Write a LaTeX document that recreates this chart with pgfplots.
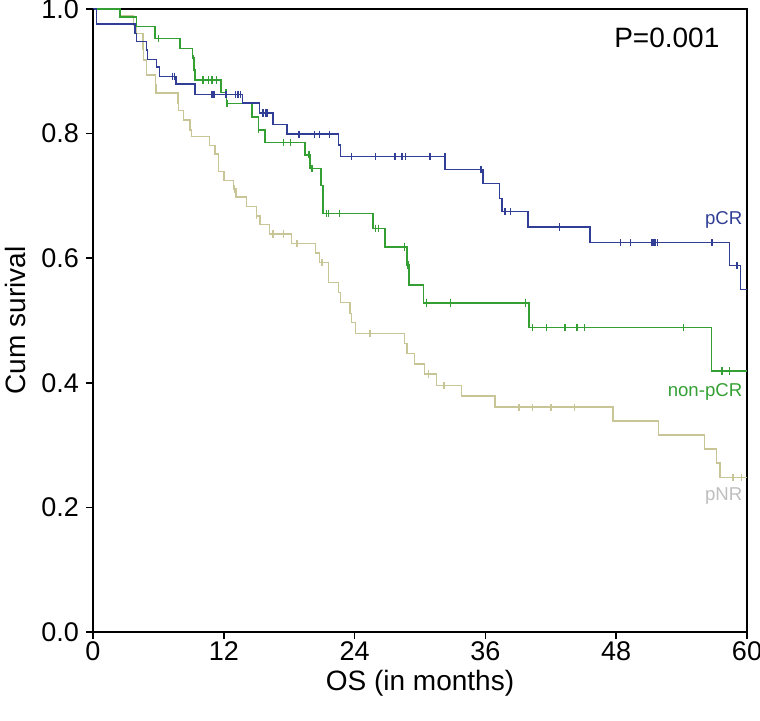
\documentclass[border=0pt]{standalone}
\usepackage{fontspec}
\setmainfont{Liberation Sans}
\usepackage{pgfplots}
\pgfplotsset{compat=1.18}

\definecolor{pcr}{RGB}{48,62,150}
\definecolor{npcr}{RGB}{52,160,52}
\definecolor{pnr}{RGB}{200,198,150}
\definecolor{pnrlab}{RGB}{190,190,190}

\begin{document}
\begin{tikzpicture}
\useasboundingbox (0,0) rectangle (380pt,360pt);
\begin{axis}[
  at={(46.5pt,44pt)}, anchor=south west,
  scale only axis, width=327pt, height=311.5pt,
  xmin=0, xmax=60, ymin=0, ymax=1,
  xtick={0,12,24,36,48,60},
  ytick={0,0.2,0.4,0.6,0.8,1.0},
  yticklabel style={/pgf/number format/.cd, fixed, fixed zerofill, precision=1},
  /pgf/number format/assume math mode=true,
  tick align=outside, xtick pos=bottom, ytick pos=left,
  major tick length=3.5pt,
  tick style={black, line width=0.8pt},
  axis line style={line width=0.7pt},
  ticklabel style={font=\fontsize{13.5}{16}\selectfont},
  xticklabel style={inner sep=1pt},
  label style={font=\fontsize{14}{16}\selectfont, inner sep=0pt},
  xlabel={OS (in months)},
  ylabel={Cum surival},
  xlabel style={at={(axis description cs:0.5,-0.083)}, anchor=center},
  ylabel style={at={(axis description cs:-0.119,0.5)}, anchor=center},
  every axis plot/.append style={line width=0.75pt},
  clip=false,
]
% step curves
\addplot[pnr, const plot, no marks] coordinates {
  (0,1.0) (2.5,0.989) (3.7,0.974) (4.0,0.961) (4.6,0.935) (4.65,0.918)
  (4.9,0.894) (5.75,0.878) (5.8,0.865) (7.8,0.849) (7.85,0.837) (8.3,0.822)
  (8.9,0.806) (9.05,0.795) (10.7,0.781) (11.2,0.767) (11.5,0.739) (12.0,0.725)
  (12.9,0.711) (13.1,0.698) (14.1,0.683) (15.0,0.668) (15.3,0.654) (16.2,0.639)
  (18.2,0.624) (20.4,0.608) (20.8,0.593) (21.6,0.561) (22.5,0.545) (22.7,0.529)
  (23.6,0.511) (23.7,0.497) (24.1,0.479) (28.6,0.463) (28.8,0.447) (29.5,0.430)
  (30.4,0.414) (31.5,0.396) (33.8,0.379) (36.9,0.361) (47.7,0.339) (51.9,0.316)
  (56.1,0.294) (57.2,0.271) (57.5,0.248) (60,0.248)
};
\addplot[npcr, const plot, no marks] coordinates {
  (0,1.0) (2.5,0.987) (4.0,0.972) (5.7,0.953) (8.0,0.937) (9.15,0.921)
  (9.25,0.902) (9.36,0.886) (11.75,0.866) (12.25,0.848) (14.6,0.827) (15.2,0.806)
  (15.8,0.786) (19.45,0.766) (19.9,0.744) (20.9,0.717) (21.1,0.672) (25.7,0.648)
  (26.8,0.618) (28.8,0.589) (29.0,0.557) (30.3,0.528) (40.0,0.489) (56.75,0.419)
  (60,0.419)
};
\addplot[pcr, const plot, no marks] coordinates {
  (0,1.0) (0.3,0.976) (3.85,0.961) (4.0,0.948) (4.9,0.934) (5.0,0.919)
  (5.84,0.907) (6.08,0.892) (7.6,0.880) (9.36,0.863) (13.7,0.849) (15.26,0.833)
  (16.5,0.815) (17.8,0.799) (22.5,0.782) (22.7,0.763) (32.3,0.742) (35.8,0.720)
  (37.3,0.696) (37.5,0.675) (39.9,0.650) (45.6,0.625) (58.4,0.588) (59.4,0.550)
  (60,0.550)
};
% censor marks
\addplot[pnr, only marks, mark=|, mark size=1.8pt, mark options={line width=0.7pt}] coordinates {
  (13.0,0.711) (15.0,0.668) (16.5,0.639) (17.5,0.639) (18.7,0.624) (21.0,0.593)
  (25.4,0.479) (30.8,0.414) (32.2,0.396) (39.1,0.361) (40.3,0.361) (42.0,0.361)
  (44.2,0.361) (58.7,0.248) (59.5,0.248)
};
\addplot[npcr, only marks, mark=|, mark size=1.8pt, mark options={line width=0.7pt}] coordinates {
  (6.0,0.953) (9.2,0.921) (9.3,0.902) (10.1,0.886) (10.6,0.886) (10.9,0.886)
  (11.35,0.886) (12.2,0.866) (12.3,0.848) (15.2,0.806) (17.5,0.786) (18.1,0.786)
  (19.8,0.766) (20.1,0.744) (21.4,0.672) (21.6,0.672) (22.6,0.672) (25.9,0.648)
  (26.2,0.648) (28.6,0.618) (28.9,0.589) (30.6,0.528) (32.8,0.528) (39.7,0.528)
  (40.3,0.489) (41.6,0.489) (43.3,0.489) (44.4,0.489) (45.1,0.489) (54.2,0.489)
  (57.7,0.419) (58.4,0.419)
};
\addplot[pcr, only marks, mark=|, mark size=1.8pt, mark options={line width=0.7pt}] coordinates {
  (7.3,0.892) (7.45,0.892) (10.9,0.863) (11.1,0.863) (12.2,0.863) (13.05,0.863)
  (13.3,0.863) (13.55,0.863) (15.6,0.833) (15.8,0.833) (15.95,0.833) (18.9,0.799)
  (20.3,0.799) (20.8,0.799) (21.7,0.799) (23.7,0.763) (25.9,0.763) (27.7,0.763)
  (28.35,0.763) (28.65,0.763) (30.9,0.763) (32.3,0.763) (35.6,0.742) (37.8,0.675)
  (38.3,0.675) (42.8,0.650) (48.4,0.625) (49.3,0.625) (51.3,0.625) (51.45,0.625)
  (51.6,0.625) (51.8,0.625) (56.8,0.625) (59.1,0.588)
};
% heavier left and bottom axis lines
\draw[line width=1.2pt] (rel axis cs:0,1) -- (rel axis cs:0,0) -- (rel axis cs:1,0);
% labels
\node[anchor=east, inner sep=0pt, font=\fontsize{14}{16}\selectfont] at (axis cs:57.5,0.953) {P=0.001};
\node[anchor=east, inner sep=0pt, text=pcr, font=\fontsize{9.3}{11}\selectfont] at (axis cs:59.6,0.662) {pCR};
\node[anchor=east, inner sep=0pt, text=npcr, font=\fontsize{9.3}{11}\selectfont] at (axis cs:59.6,0.385) {non-pCR};
\node[anchor=east, inner sep=0pt, text=pnrlab, font=\fontsize{9.3}{11}\selectfont] at (axis cs:59.6,0.218) {pNR};
\end{axis}
\end{tikzpicture}
\end{document}
